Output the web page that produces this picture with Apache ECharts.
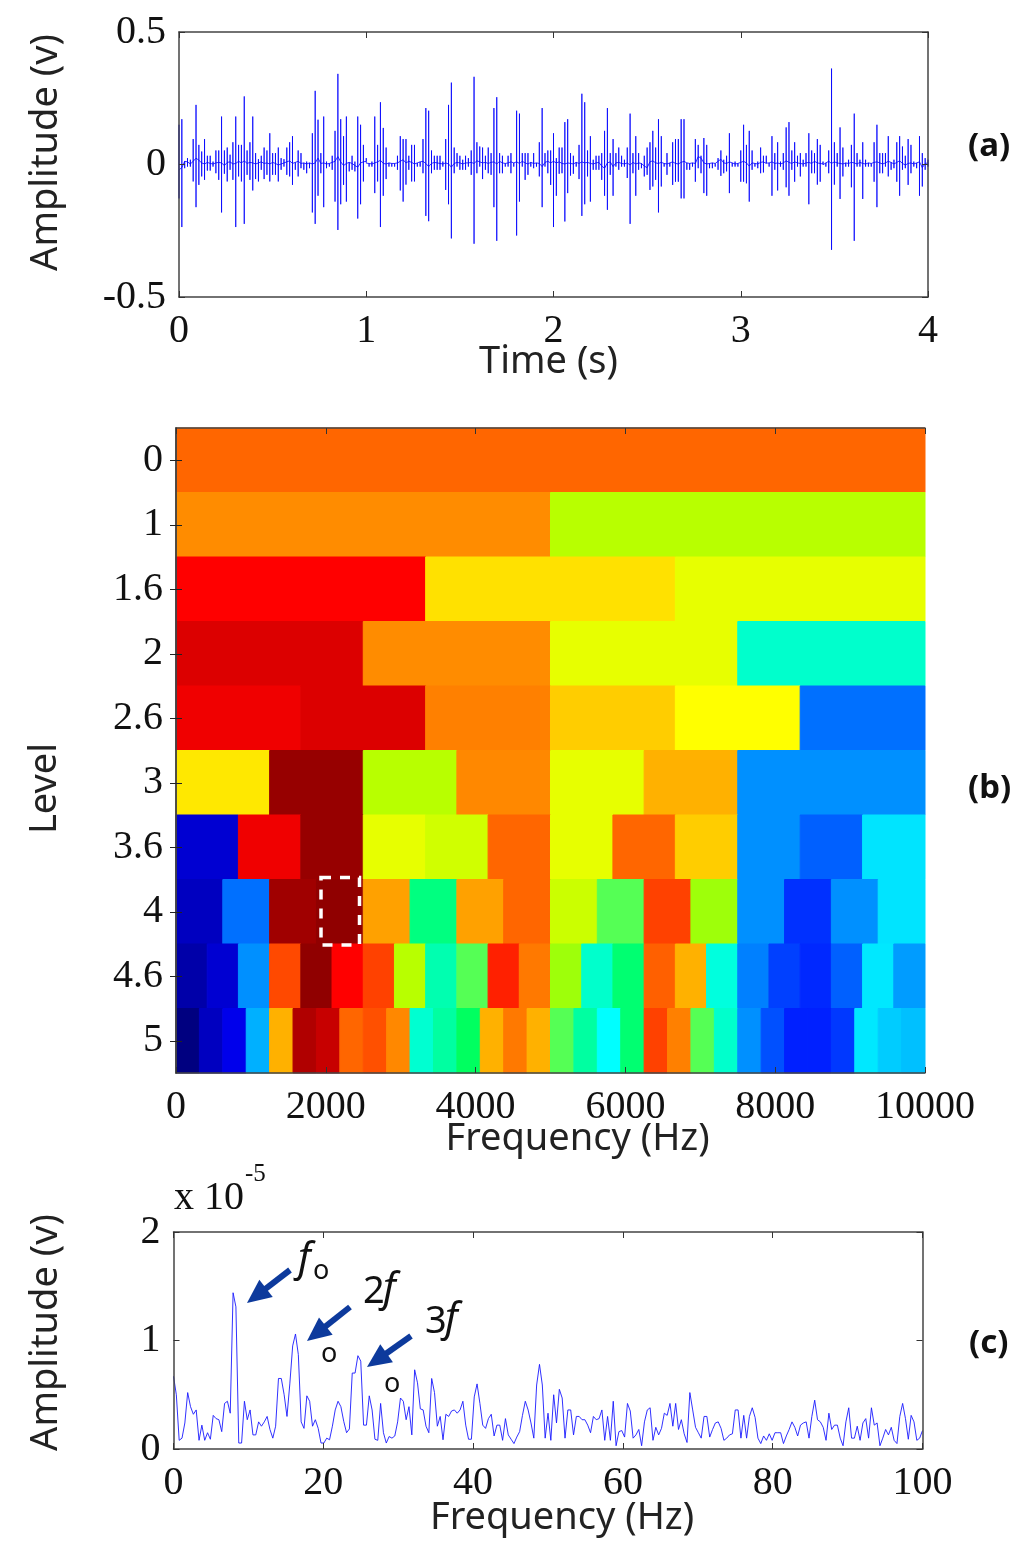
<!DOCTYPE html>
<html>
<head>
<meta charset="utf-8">
<title>Kurtogram</title>
<script src="https://cdn.jsdelivr.net/npm/echarts@6/dist/echarts.min.js"></script>
<style>
  html, body { margin: 0; background: #fff; }
  #chart { width: 1024px; height: 1555px; }
</style>
</head>
<body>
<div id="chart"></div>
<script>
// (a) time signal, one column per sample: peak up, peak down, resting level (volts)
const signalTop = [
  .150,.171,.018,.024,.018,.096,.225,.074,.049,.096,.033,.033,.011,.053,.053,.181,.053,.064,.037,.084,
  .181,.074,.074,.257,.053,.084,.181,.043,.020,.033,.064,.053,.118,.043,.043,.064,.024,.020,.064,.084,
  .107,.011,.053,.043,.011,.011,.011,.118,.278,.169,.043,.181,.011,.008,.033,.127,.342,.171,.107,.181,
  .011,.033,.011,.181,.150,.074,.024,.011,.011,.181,.074,.235,.138,.064,.011,.011,.011,.033,.107,.096,
  .096,.033,.074,.074,.011,.011,.096,.213,.203,.053,.033,.033,.033,.011,.096,.225,.309,.064,.043,.033,
  .018,.033,.024,.053,.331,.084,.068,.064,.033,.064,.043,.213,.254,.043,.033,.011,.033,.043,.011,.203,
  .192,.043,.043,.043,.011,.043,.011,.084,.213,.043,.053,.053,.118,.024,.064,.064,.160,.171,.043,.033,
  .011,.074,.267,.235,.053,.107,.018,.033,.033,.043,.127,.213,.043,.096,.043,.064,.033,.018,.064,.192,
  .043,.107,.043,.011,.033,.064,.084,.127,.064,.171,.107,.011,.043,.011,.084,.096,.096,.171,.171,.011,
  .011,.011,.096,.074,.033,.100,.074,.011,.011,.011,.024,.053,.018,.033,.118,.011,.011,.011,.053,.150,
  .074,.127,.053,.011,.011,.064,.033,.033,.011,.107,.043,.084,.011,.043,.140,.160,.053,.084,.033,.043,
  .018,.043,.118,.053,.043,.096,.074,.011,.011,.053,.362,.084,.043,.140,.064,.011,.018,.074,.192,.043,
  .018,.084,.018,.011,.011,.084,.150,.043,.043,.043,.107,.011,.018,.084,.107,.068,.033,.096,.074,.011,
  .011,.107,.043,.024,.018
];
const signalBot = [
  -.128,-.236,-.014,-.008,-.008,-.064,-.161,-.077,-.045,-.058,-.023,-.023,-.008,-.033,-.058,-.181,-.035,-.064,-.020,-.058,
  -.236,-.045,-.064,-.224,-.039,-.058,-.098,-.055,-.064,-.020,-.055,-.039,-.064,-.039,-.039,-.064,-.020,-.008,-.039,-.045,
  -.077,-.020,-.045,-.014,-.020,-.033,-.014,-.181,-.224,-.118,-.033,-.161,-.014,-.008,-.020,-.140,-.247,-.150,-.077,-.140,
  -.026,-.020,-.026,-.204,-.150,-.064,.005,-.008,-.008,-.108,-.064,-.236,-.118,-.055,-.008,-.008,-.008,-.020,-.098,-.140,
  -.076,-.020,-.064,-.064,-.008,-.008,-.033,-.194,-.214,-.033,-.020,-.020,-.020,-.008,-.096,-.150,-.279,-.033,-.008,-.020,
  -.020,-.020,-.008,-.039,-.299,-.033,-.008,-.055,-.020,-.033,-.039,-.161,-.288,-.033,-.033,-.008,-.008,-.033,-.008,-.268,
  -.140,-.008,-.058,-.039,-.008,-.014,-.008,-.045,-.161,-.008,-.033,-.077,-.236,-.118,-.035,-.033,-.215,-.108,-.042,-.035,
  -.008,-.055,-.194,-.150,-.045,-.140,-.020,-.020,-.020,-.058,-.118,-.171,-.039,-.118,-.008,-.020,-.008,-.008,-.051,-.224,
  -.033,-.118,-.020,-.014,-.045,-.039,-.096,-.083,-.058,-.181,-.083,-.008,-.039,-.008,-.077,-.065,-.065,-.128,-.128,-.020,
  -.020,-.008,-.065,-.014,-.033,-.108,-.118,-.014,-.014,-.008,-.020,-.043,-.033,-.026,-.108,-.008,-.008,-.008,-.065,-.065,
  -.071,-.140,-.020,-.008,-.014,-.033,-.030,.005,-.008,-.118,-.020,-.098,-.008,-.020,-.086,-.118,-.020,-.065,-.008,-.045,
  -.008,-.008,-.150,-.033,-.033,-.076,-.065,-.001,-.008,-.033,-.322,-.076,-.008,-.130,-.045,-.008,-.008,-.086,-.288,-.008,
  -.008,-.130,-.008,-.008,-.008,-.065,-.161,-.033,-.033,-.008,-.045,-.020,-.014,-.065,-.118,-.020,-.014,-.077,-.033,-.008,
  -.014,-.118,-.083,-.020,-.008
];
const signalBase = [
  -.020,-.012,.012,.010,.002,.012,.024,.016,.006,.002,.008,.004,.002,.006,.008,.006,-.004,.008,.010,.002,
  .004,.012,.006,.014,.004,.008,.006,.002,.006,.010,.004,.006,.002,.008,.004,-.002,.002,.006,.010,.014,
  .004,.008,.012,.004,.006,.002,.006,.002,.006,.024,.004,.006,.002,.004,.008,.012,.030,.010,-.004,.004,
  .008,.004,-.004,-.010,.006,.010,.012,.004,.002,.006,.010,.016,.004,.002,.006,.004,.004,.006,.012,.018,
  .006,.012,.008,.002,.006,.010,.012,.004,-.008,.004,.008,.006,.004,.002,.006,.002,-.010,.004,.008,.006,
  .002,.006,.006,.008,.004,.014,.010,.006,.008,.004,.008,.010,.002,.012,.006,.004,.006,.010,.006,.010,
  .004,.012,.006,.002,.008,.004,.006,.004,-.008,.008,.012,.006,.012,.006,.010,.004,.002,.006,.004,.002,
  .008,.004,.010,.006,.008,.004,.002,.006,.008,-.006,-.014,.006,.010,-.008,.006,.008,.004,.002,.006,-.002,
  .008,.002,.006,.004,-.006,-.012,.010,.014,.006,.004,.008,.004,.002,.006,.010,.004,.002,.008,.012,.006,
  .004,.006,.004,.030,.024,.006,.002,.004,.006,.004,.012,.020,.006,.004,.010,.006,.002,.004,.008,.012,
  .006,-.006,.006,.004,.002,.008,.010,.004,.006,.010,.004,.006,.002,.006,.014,.008,.004,.010,.006,.004,
  .002,.006,.008,.004,.012,.006,.004,.002,.006,.012,.004,.010,.006,.004,.002,.006,.004,.008,.006,.002,
  .008,.004,.002,.006,.004,.008,.010,.006,.002,.006,.012,.008,.002,.008,.014,.004,-.002,.004,.006,.002,
  .006,.010,-.012,.004,.006
];

// (b) kurtogram: value per frequency band, one list per level, on the 0-1 colour scale
const levelLabels = ['0', '1', '1.6', '2', '2.6', '3', '3.6', '4', '4.6', '5'];
const level0 = [.775];
const level1 = [.738, .574];
const level16 = [.875, .655, .608];
const level2 = [.910, .738, .608, .395];
const level26 = [.890, .910, .750, .675, .625, .234];
const level3 = [.6475, .978, .574, .742, .608, .7025, .266, .266];
const level36 = [.080, .890, .978, .608, .591, .775, .608, .775, .675, .266, .219, .348];
const level4 = [.0625, .234, .969, .984, .718, .425, .718, .775, .588, .500, .812, .555, .266, .172, .266, .348];
const level46 = [.040, .080, .266, .804, .984, .875, .812, .574, .406, .500, .844, .757,
  .555, .395, .431, .781, .7025, .388, .250, .1875, .164, .219, .352, .277];
const level5 = [.000, .0625, .105, .297, .7025, .953, .931, .775, .797, .742, .393, .412, .4375, .7025, .757, .7025,
  .500, .412, .375, .431, .812, .750, .500, .395, .266, .203, .156, .156, .180, .352, .324, .3125];
const levelBands = [level0, level1, level16, level2, level26, level3, level36, level4, level46, level5];
const jetStops = ['#000080', '#0000c0', '#0000ff', '#0040ff', '#0080ff', '#00c0ff', '#00ffff', '#00ff60', '#55ff55',
  '#a8ff00', '#ffff00', '#ffc000', '#ff8000', '#ff4000', '#ff0000', '#c00000', '#800000'];

// (c) envelope spectrum, in units of 1e-5 V
const spectrum = [
  .67,.50,.08,.10,.24,.52,.39,.32,.36,.08,.22,.08,.15,.09,.31,.28,.27,.16,.42,.44,
  .33,1.44,1.31,.055,.055,.44,.27,.36,.13,.13,.25,.21,.25,.30,.18,.10,.21,.65,.65,.50,
  .30,.60,.95,1.06,.87,.25,.19,.49,.44,.21,.27,.19,.055,.055,.10,.085,.21,.36,.44,.39,
  .255,.15,.185,.70,.70,.86,.81,.22,.22,.49,.36,.09,.08,.42,.15,.055,.115,.10,.12,.25,
  .47,.44,.27,.39,.13,.73,.61,.37,.36,.21,.15,.65,.52,.21,.30,.085,.32,.30,.35,.36,
  .33,.36,.44,.22,.09,.09,.48,.60,.42,.22,.19,.28,.32,.12,.22,.22,.08,.28,.13,.09,
  .05,.11,.16,.31,.44,.36,.24,.10,.59,.78,.59,.10,.33,.08,.50,.24,.55,.47,.10,.36,
  .36,.13,.30,.30,.27,.27,.22,.15,.30,.27,.28,.36,.08,.30,.08,.44,.03,.16,.17,.11,
  .42,.35,.10,.13,.18,.03,.25,.36,.38,.08,.20,.13,.19,.33,.31,.42,.21,.42,.18,.27,
  .14,.06,.52,.36,.20,.15,.10,.30,.30,.11,.18,.24,.25,.19,.08,.10,.13,.14,.36,.36,
  .10,.31,.10,.30,.38,.29,.10,.05,.12,.08,.14,.08,.15,.15,.15,.05,.12,.18,.25,.20,
  .12,.22,.24,.25,.10,.30,.45,.27,.25,.20,.08,.33,.18,.22,.22,.10,.03,.25,.38,.10,
  .10,.21,.08,.24,.28,.10,.38,.22,.24,.03,.10,.18,.13,.20,.08,.05,.30,.42,.28,.09,
  .31,.25,.08,.10,.17
];

const tickColor = '#333';
const serif = '"Liberation Serif", serif';
const sans = '"Noto Sans", sans-serif';
const plainNumber = (v) => String(v);

// every column runs base -> top -> bottom -> base so the spikes stay vertical
const signalLine = [];
signalTop.forEach((top, i) => {
  const t = i * 4 / (signalTop.length - 1);
  signalLine.push([t, signalBase[i]], [t, top], [t, signalBot[i]], [t, signalBase[i]]);
});

const spectrumLine = spectrum.map((v, i) => [i * 100 / (spectrum.length - 1), v]);

const kurtoCells = [];
levelBands.forEach((bands, row) => {
  const w = 10000 / bands.length;
  bands.forEach((v, i) => kurtoCells.push([i * w, (i + 1) * w, row, v]));
});

function xAxisFor(gridIndex, max, interval, name, nameGap, padding) {
  return {
    gridIndex, type: 'value', min: 0, max, interval, position: 'bottom', z: 5,
    name, nameLocation: 'middle', nameGap, nameMoveOverlap: false,
    nameTextStyle: { fontFamily: sans, fontSize: 38, color: '#222', padding },
    axisLine: { show: true, onZero: false, lineStyle: { color: '#444', width: 1.5 } },
    axisTick: { show: true, inside: true, length: 6, lineStyle: { color: tickColor } },
    axisLabel: { show: true, margin: 14, fontFamily: serif, fontSize: 40, color: '#111', formatter: plainNumber },
    splitLine: { show: false }
  };
}
function mirrorX(gridIndex, max, interval) {
  return {
    gridIndex, type: 'value', min: 0, max, interval, position: 'top', z: 5,
    axisLine: { show: true, onZero: false, lineStyle: { color: '#444', width: 1.5 } },
    axisTick: { show: true, inside: true, length: 6, lineStyle: { color: tickColor } },
    axisLabel: { show: false }, splitLine: { show: false }
  };
}
function yAxisFor(gridIndex, min, max, interval, name, nameGap, padding) {
  return {
    gridIndex, type: 'value', min, max, interval, position: 'left', z: 5,
    name, nameLocation: 'middle', nameGap,
    nameTextStyle: { fontFamily: sans, fontSize: 38, color: '#222', padding },
    axisLine: { show: true, onZero: false, lineStyle: { color: '#444', width: 1.5 } },
    axisTick: { show: true, inside: true, length: 6, lineStyle: { color: tickColor } },
    axisLabel: { show: true, margin: 13, fontFamily: serif, fontSize: 40, color: '#111', formatter: plainNumber },
    splitLine: { show: false }
  };
}
function mirrorY(gridIndex, min, max, interval) {
  return {
    gridIndex, type: 'value', min, max, interval, position: 'right', z: 5,
    axisLine: { show: true, onZero: false, lineStyle: { color: '#444', width: 1.5 } },
    axisTick: { show: true, inside: true, length: 6, lineStyle: { color: tickColor } },
    axisLabel: { show: false }, splitLine: { show: false }
  };
}

const levelAxis = {
  gridIndex: 1, type: 'category', data: levelLabels, inverse: true, position: 'left', z: 5,
  name: 'Level', nameLocation: 'middle', nameGap: 112,
  nameTextStyle: { fontFamily: sans, fontSize: 38, color: '#222', padding: [0, 76, 0, 0] },
  axisLine: { show: true, lineStyle: { color: '#444', width: 1.5 } },
  axisTick: { show: true, inside: true, alignWithLabel: true, length: 6, lineStyle: { color: '#222' } },
  axisLabel: { show: true, margin: 13, fontFamily: serif, fontSize: 40, color: '#111' }
};
const levelMirror = {
  gridIndex: 1, type: 'category', data: levelLabels, inverse: true, position: 'right', z: 5,
  axisLine: { show: true, lineStyle: { color: '#444', width: 1.5 } },
  axisTick: { show: true, inside: true, alignWithLabel: true, length: 6, lineStyle: { color: '#222' } },
  axisLabel: { show: false }
};

function textMark(left, top, text, fontSize, extra) {
  return {
    type: 'text', left, top, z: 20,
    style: Object.assign({ text, fontFamily: sans, fontSize, fill: '#111' }, extra || {})
  };
}
// shaft and head of one annotation arrow, tip at the far end
function arrow(x1, y1, x2, y2) {
  const a = Math.atan2(y2 - y1, x2 - x1);
  const ux = Math.cos(a), uy = Math.sin(a);
  const bx = x2 - ux * 20, by = y2 - uy * 20;
  return [
    { type: 'line', z: 20, shape: { x1, y1, x2: bx, y2: by }, style: { stroke: '#0d3a9c', lineWidth: 6 } },
    { type: 'polygon', z: 20, shape: { points: [
      [x2, y2], [bx - uy * 11 - ux * 4, by + ux * 11 - uy * 4], [bx + uy * 11 - ux * 4, by - ux * 11 - uy * 4]
    ] }, style: { fill: '#0d3a9c' } }
  ];
}

const chart = echarts.init(document.getElementById('chart'), null, { renderer: 'canvas' });
chart.setOption({
  animation: false,
  backgroundColor: '#fff',
  grid: [
    { left: 179, top: 32, width: 749, height: 265 },
    { left: 176, top: 428, width: 749, height: 645 },
    { left: 173.5, top: 1232, width: 749, height: 217 }
  ],
  xAxis: [
    xAxisFor(0, 4, 1, 'Time (s)', 46, [0, 10, 0, 0]),
    mirrorX(0, 4, 1),
    xAxisFor(1, 10000, 2000, 'Frequency (Hz)', 47, [0, 0, 0, 54]),
    mirrorX(1, 10000, 2000),
    xAxisFor(2, 100, 20, 'Frequency (Hz)', 50, [0, 0, 0, 28]),
    mirrorX(2, 100, 20)
  ],
  yAxis: [
    yAxisFor(0, -0.5, 0.5, 0.5, 'Amplitude (v)', 114, [0, 0, 0, 24]),
    mirrorY(0, -0.5, 0.5, 0.5),
    levelAxis,
    levelMirror,
    yAxisFor(2, 0, 2, 1, 'Amplitude (v)', 108, [0, 0, 0, 16]),
    mirrorY(2, 0, 2, 1)
  ],
  visualMap: {
    show: false, type: 'continuous', min: 0, max: 1, dimension: 3, seriesIndex: 1,
    inRange: { color: jetStops }
  },
  series: [
    {
      type: 'line', xAxisIndex: 0, yAxisIndex: 0, data: signalLine,
      showSymbol: false, sampling: false, silent: true,
      lineStyle: { color: '#0000ff', width: 0.8 }
    },
    {
      type: 'custom', xAxisIndex: 2, yAxisIndex: 2, data: kurtoCells,
      encode: { x: [0, 1], y: 2 },
      renderItem(params, api) {
        const a = api.coord([api.value(0), api.value(2)]);
        const b = api.coord([api.value(1), api.value(2)]);
        const h = api.size([0, 1])[1];
        const color = api.visual('color');
        return {
          type: 'rect',
          shape: { x: a[0], y: a[1] - h / 2, width: b[0] - a[0], height: h },
          style: { fill: color, stroke: color, lineWidth: 1 }
        };
      }
    },
    {
      type: 'line', xAxisIndex: 4, yAxisIndex: 4, data: spectrumLine,
      showSymbol: false, silent: true,
      lineStyle: { color: '#1a1aff', width: 0.9 }
    }
  ],
  graphic: [
    { type: 'rect', z: 20, shape: { x: 321, y: 877.5, width: 38.5, height: 67.5 },
      style: { fill: 'none', stroke: '#fff', lineWidth: 3.5, lineDash: [10, 9] } },
    ...arrow(290, 1270, 247, 1303),
    ...arrow(350, 1307, 307, 1341),
    ...arrow(411, 1336, 367, 1367),
    textMark(298, 1240, 'f', 40, { fontStyle: 'italic' }),
    textMark(313, 1258, 'o', 27),
    textMark(363, 1273, '2', 38),
    textMark(383, 1270, 'f', 40, { fontStyle: 'italic' }),
    textMark(321, 1341, 'o', 27),
    textMark(425, 1303, '3', 38),
    textMark(445, 1300, 'f', 40, { fontStyle: 'italic' }),
    textMark(384, 1371, 'o', 27),
    textMark(174, 1178, 'x 10', 40, { fontFamily: serif }),
    textMark(245, 1162, '-5', 25, { fontFamily: serif }),
    textMark(968, 130, '(a)', 33, { fontWeight: 'bold' }),
    textMark(968, 772, '(b)', 33, { fontWeight: 'bold' }),
    textMark(969, 1327, '(c)', 33, { fontWeight: 'bold' })
  ]
});
</script>
</body>
</html>
